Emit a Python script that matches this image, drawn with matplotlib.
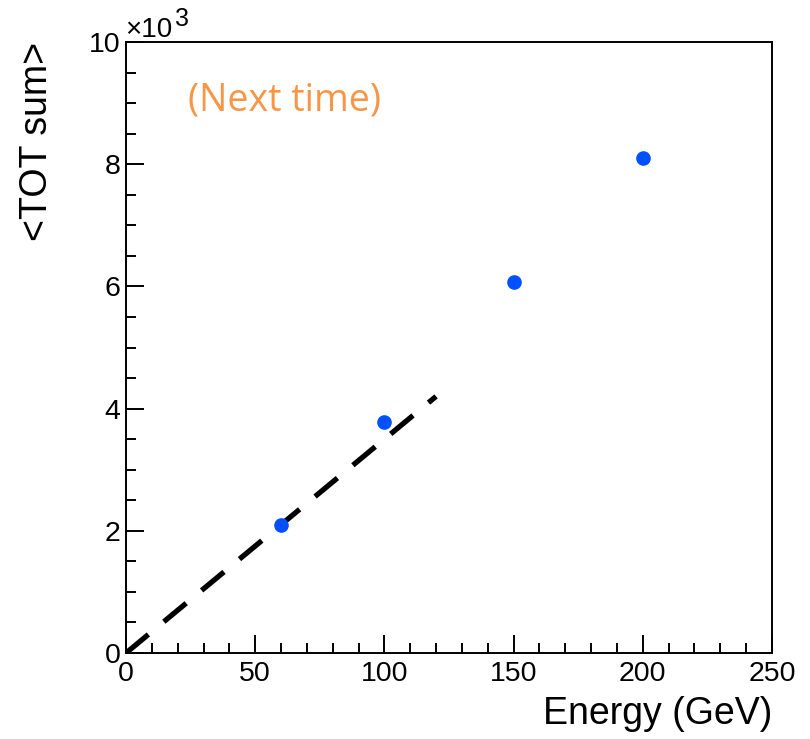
import matplotlib
matplotlib.use("Agg")
import matplotlib.pyplot as plt
from matplotlib.ticker import MultipleLocator, FuncFormatter

energy = [60, 100, 150, 200]
tot_sum = [2095, 3780, 6070, 8100]
fit_x = [0, 120]
fit_y = [0, 4200]

plt.rcParams['font.family'] = ['Liberation Sans', 'DejaVu Sans']

fig = plt.figure(figsize=(8.10, 7.39), dpi=100)
ax = fig.add_axes([126/810, 1-653/739, (772-126)/810, (653-42)/739])

ax.plot(fit_x, fit_y, color='black', lw=3.8, dashes=(5.5, 3.8))
ax.plot(energy, tot_sum, 'o', color='#0050FF', ms=9.5, mec='#0050FF', zorder=3)

ax.set_xlim(0, 250)
ax.set_ylim(0, 10000)
ax.xaxis.set_major_locator(MultipleLocator(50))
ax.xaxis.set_minor_locator(MultipleLocator(10))
ax.yaxis.set_major_locator(MultipleLocator(2000))
ax.yaxis.set_minor_locator(MultipleLocator(500))
ax.yaxis.set_major_formatter(FuncFormatter(lambda v, p: f"{v/1000:g}"))
ax.tick_params(which='both', direction='in', top=False, right=False, width=1.4,
               labelsize=20.5, colors='black')
ax.tick_params(which='major', length=13)
ax.tick_params(which='minor', length=7)
ax.tick_params(axis='x', which='major', pad=6)
ax.tick_params(axis='y', which='major', pad=4)
for s in ax.spines.values():
    s.set_linewidth(1.4)

ax.text(-0.0015, 1 + 5/611, "×10", transform=ax.transAxes, fontsize=20,
        ha='left', va='baseline')
ax.text(0.0760, 1 + 16/611, "3", transform=ax.transAxes, fontsize=18,
        ha='left', va='baseline')

ax.set_xlabel("Energy (GeV)", fontsize=27, loc='right', labelpad=6)
ax.set_ylabel("<TOT sum>", fontsize=27, loc='top', labelpad=24)

ax.text(0.096, 0.904, "(Next time)", transform=ax.transAxes, fontsize=27,
        color='#F79646', family=['Open Sans', 'DejaVu Sans'], ha='left', va='center')

fig.savefig("out.png", dpi=100)
